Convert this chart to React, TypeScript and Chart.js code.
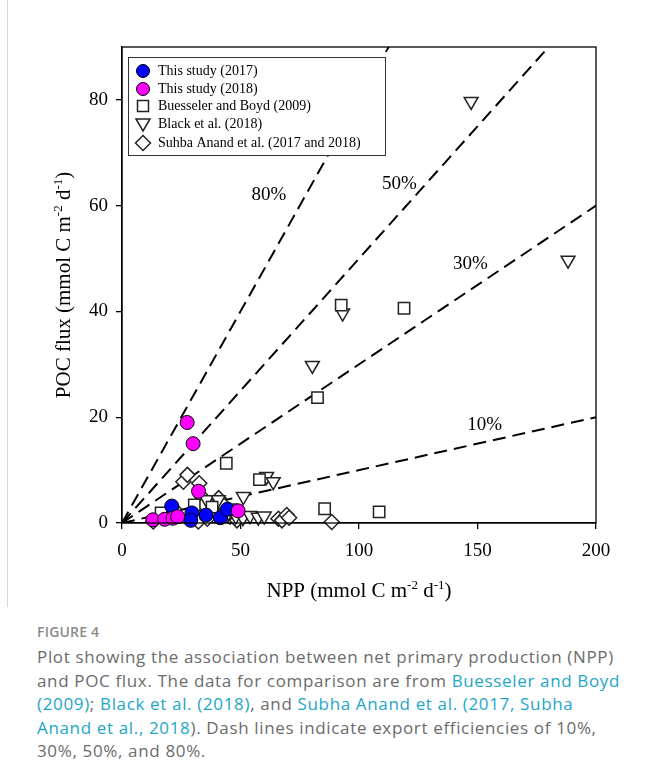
import React, { useEffect, useRef } from "react";
import { Chart, registerables } from "chart.js";

Chart.register(...registerables);

// ---- data ----
const study2017X = [21, 29.5, 29, 35.5, 41.5, 44.5];
const study2017Y = [3.2, 1.9, 0.5, 1.5, 1.0, 2.6];

const study2018X = [13, 18, 21.5, 23.5, 27.5, 30, 32.3, 49];
const study2018Y = [0.6, 0.7, 0.9, 1.2, 19, 15, 6, 2.3];

const buesselerX = [16.5, 30.5, 38, 44, 46, 58, 82.5, 92.5, 119, 85.5, 108.5];
const buesselerY = [1.9, 3.4, 3.0, 11.3, 2.5, 8.2, 23.7, 41.2, 40.6, 2.7, 2.1];

const blackX = [147.3, 188.2, 93.1, 80.3, 61, 63.8, 51.2, 48, 51, 54, 57.5, 60, 35.7, 40.6, 45];
const blackY = [79.7, 49.7, 39.7, 29.8, 8.8, 7.8, 5.0, 1.3, 1.0, 1.4, 1.1, 1.3, 4.4, 4.4, 2.0];

const subhaX = [13.2, 25.9, 27.6, 32.6, 32.2, 33.6, 34.5, 38.5, 40.8, 45.6, 48.5, 66, 67.5, 69.5, 70.5, 88.5, 22, 36, 43];
const subhaY = [0.3, 7.8, 9.1, 7.5, 0.3, 5.0, 3.5, 2.1, 4.7, 1.2, 0.5, 0.8, 0.5, 1.5, 1.0, 0.2, 2.6, 0.8, 3.3];

const efficiencies = [0.1, 0.3, 0.5, 0.8];
const efficiencyLabels = ["10%", "30%", "50%", "80%"];
const efficiencyLabelX = [153, 147, 117, 62];
const efficiencyLabelY = [18.5, 49, 64, 62];

const xTicks = [0, 50, 100, 150, 200];
const yTicks = [0, 20, 40, 60, 80];

const legendLabels = [
  "This study (2017)",
  "This study (2018)",
  "Buesseler and Boyd (2009)",
  "Black et al. (2018)",
  "Suhba Anand et al. (2017 and 2018)",
];

const SERIF = "'Liberation Serif', 'Times New Roman', serif";

const toPoints = (xs: number[], ys: number[]) => xs.map((x, i) => ({ x, y: ys[i] }));

function drawMarker(ctx: CanvasRenderingContext2D, kind: string, x: number, y: number, fill: string) {
  ctx.save();
  ctx.beginPath();
  if (kind === "circle") {
    ctx.arc(x, y, 6.5, 0, Math.PI * 2);
  } else if (kind === "square") {
    ctx.rect(x - 5.5, y - 5.5, 11, 11);
  } else if (kind === "triangle") {
    ctx.moveTo(x - 7, y - 5);
    ctx.lineTo(x + 7, y - 5);
    ctx.lineTo(x, y + 7);
    ctx.closePath();
  } else {
    ctx.moveTo(x, y - 7.5);
    ctx.lineTo(x + 7.5, y);
    ctx.lineTo(x, y + 7.5);
    ctx.lineTo(x - 7.5, y);
    ctx.closePath();
  }
  ctx.fillStyle = fill;
  ctx.fill();
  ctx.lineWidth = kind === "circle" ? 1 : 1.5;
  ctx.strokeStyle = kind === "circle" ? "#000" : "#222";
  ctx.stroke();
  ctx.restore();
}

function drawSupText(
  ctx: CanvasRenderingContext2D,
  parts: { t: string; sup?: boolean }[],
  cx: number,
  cy: number,
  size: number,
  supSize: number
) {
  let total = 0;
  const widths = parts.map((p) => {
    ctx.font = `${p.sup ? supSize : size}px ${SERIF}`;
    const w = ctx.measureText(p.t).width;
    total += w;
    return w;
  });
  let x = cx - total / 2;
  ctx.textBaseline = "alphabetic";
  ctx.textAlign = "left";
  ctx.fillStyle = "#000";
  parts.forEach((p, i) => {
    ctx.font = `${p.sup ? supSize : size}px ${SERIF}`;
    ctx.fillText(p.t, x, p.sup ? cy - size * 0.38 : cy);
    x += widths[i];
  });
}

const decor = {
  id: "decor",
  afterDraw(chart: any) {
    const { ctx, chartArea, scales } = chart;
    const { left, top, right, bottom } = chartArea;
    ctx.save();
    // frame
    ctx.strokeStyle = "#000";
    ctx.lineWidth = 1.3;
    ctx.strokeRect(left, top, right - left, bottom - top);

    // efficiency labels
    ctx.font = `19px ${SERIF}`;
    ctx.fillStyle = "#000";
    ctx.textAlign = "center";
    ctx.textBaseline = "middle";
    efficiencyLabels.forEach((lab, i) => {
      const px = scales.x.getPixelForValue(efficiencyLabelX[i]);
      const py = scales.y.getPixelForValue(efficiencyLabelY[i]);
      ctx.fillText(lab, px, py);
    });

    // legend
    const lx = left + 6;
    const ly = top + 10;
    const lw = 257;
    const lh = 98;
    ctx.fillStyle = "#fff";
    ctx.fillRect(lx, ly, lw, lh);
    ctx.strokeStyle = "#333";
    ctx.lineWidth = 1;
    ctx.strokeRect(lx + 0.5, ly + 0.5, lw, lh);
    const kinds = ["circle", "circle", "square", "triangle", "diamond"];
    const fills = ["#0000ff", "#ff00ff", "#fff", "#fff", "#fff"];
    const rowY = [14, 32, 49, 67, 86];
    legendLabels.forEach((lab, i) => {
      const y = ly + rowY[i];
      drawMarker(ctx, kinds[i], lx + 15, y, fills[i]);
      ctx.font = `14px ${SERIF}`;
      ctx.fillStyle = "#000";
      ctx.textAlign = "left";
      ctx.textBaseline = "middle";
      ctx.fillText(lab, lx + 30, y);
    });

    // axis titles
    drawSupText(
      ctx,
      [
        { t: "NPP (mmol C m" },
        { t: "-2", sup: true },
        { t: " d" },
        { t: "-1", sup: true },
        { t: ")" },
      ],
      (left + right) / 2,
      bottom + 74,
      21,
      13
    );
    ctx.save();
    ctx.translate(left - 59, (top + bottom) / 2);
    ctx.rotate(-Math.PI / 2);
    drawSupText(
      ctx,
      [
        { t: "POC flux (mmol C m" },
        { t: "-2", sup: true },
        { t: " d" },
        { t: "-1", sup: true },
        { t: ")" },
      ],
      0,
      7,
      21,
      13
    );
    ctx.restore();
    ctx.restore();
  },
};

function ChartCanvas() {
  const ref = useRef<HTMLCanvasElement>(null);
  useEffect(() => {
    const canvas = ref.current!;
    const markerBase = {
      type: "scatter" as const,
      showLine: false,
      clip: false as const,
      borderColor: "#222",
      backgroundColor: "#fff",
      borderWidth: 1.5,
    };
    const lineSets = efficiencies.map((e) => ({
      type: "scatter" as const,
      label: `${e * 100}%`,
      data: [
        { x: 0, y: 0 },
        { x: 200, y: 200 * e },
      ],
      showLine: true,
      borderColor: "#000",
      borderWidth: 2,
      borderDash: [13, 7],
      pointRadius: 0,
      fill: false,
      order: 6,
    }));
    const chart = new Chart(canvas, {
      type: "scatter",
      data: {
        datasets: [
          ...lineSets,
          {
            ...markerBase,
            label: legendLabels[4],
            data: toPoints(subhaX, subhaY),
            pointStyle: "rectRot",
            pointRadius: 7.5,
            order: 5,
          },
          {
            ...markerBase,
            label: legendLabels[3],
            data: toPoints(blackX, blackY),
            pointStyle: "triangle",
            rotation: 180,
            pointRadius: 8,
            order: 4,
          },
          {
            ...markerBase,
            label: legendLabels[2],
            data: toPoints(buesselerX, buesselerY),
            pointStyle: "rect",
            pointRadius: 8,
            order: 3,
          },
          {
            ...markerBase,
            label: legendLabels[0],
            data: toPoints(study2017X, study2017Y),
            pointStyle: "circle",
            pointRadius: 7,
            backgroundColor: "#0000ff",
            borderColor: "#000",
            borderWidth: 1,
            order: 2,
          },
          {
            ...markerBase,
            label: legendLabels[1],
            data: toPoints(study2018X, study2018Y),
            pointStyle: "circle",
            pointRadius: 7,
            backgroundColor: "#ff00ff",
            borderColor: "#000",
            borderWidth: 1,
            order: 1,
          },
        ] as any,
      },
      options: {
        animation: false,
        responsive: false,
        devicePixelRatio: 1,
        events: [],
        layout: { padding: { left: 0, right: 44, top: 47, bottom: 0 } },
        plugins: { legend: { display: false }, tooltip: { enabled: false } },
        scales: {
          x: {
            type: "linear",
            min: 0,
            max: 200,
            afterBuildTicks: (s: any) => {
              s.ticks = xTicks.map((v) => ({ value: v }));
            },
            afterFit: (s: any) => {
              s.height = 82;
            },
            grid: { display: true, drawOnChartArea: false, drawTicks: true, tickLength: 6, color: "#000", lineWidth: 1.3 },
            border: { display: true, color: "#000", width: 1.3 },
            ticks: { color: "#000", font: { family: SERIF, size: 19 }, padding: 11, maxRotation: 0 },
          },
          y: {
            type: "linear",
            min: 0,
            max: 90,
            afterBuildTicks: (s: any) => {
              s.ticks = yTicks.map((v) => ({ value: v }));
            },
            afterFit: (s: any) => {
              s.width = 114;
            },
            grid: { display: true, drawOnChartArea: false, drawTicks: true, tickLength: 6, color: "#000", lineWidth: 1.3 },
            border: { display: true, color: "#000", width: 1.3 },
            ticks: { color: "#000", font: { family: SERIF, size: 19 }, padding: 8 },
          },
        },
      } as any,
      plugins: [decor],
    });
    return () => chart.destroy();
  }, []);
  return <canvas ref={ref} width={632} height={605} style={{ display: "block" }} />;
}

const gray = "#6b6b6b";
const teal = "#22a6c8";

export default function App() {
  const L = (t: string) => <span style={{ color: teal }}>{t}</span>;
  const lineStyle: React.CSSProperties = { whiteSpace: "nowrap", height: 23.5 };
  return (
    <div style={{ position: "absolute", left: 0, top: 0, width: 648, height: 782, background: "#fff" }}>
      <div style={{ position: "absolute", left: 7, top: 0, width: 1, height: 607, background: "#d8d8d8" }} />
      <div style={{ position: "absolute", left: 8, top: 0 }}>
        <ChartCanvas />
      </div>
      <div
        style={{
          position: "absolute",
          left: 37,
          top: 623,
          fontFamily: "'Open Sans', sans-serif",
          fontSize: 14,
          fontWeight: 600,
          color: "#8a8a8a",
          lineHeight: "18px",
          letterSpacing: 0.2,
        }}
      >
        FIGURE 4
      </div>
      <div
        style={{
          position: "absolute",
          left: 37,
          top: 645,
          fontFamily: "'Open Sans', sans-serif",
          fontSize: 17,
          letterSpacing: 0.65,
          color: gray,
          lineHeight: "23.5px",
        }}
      >
        <div style={lineStyle}>Plot showing the association between net primary production (NPP)</div>
        <div style={lineStyle}>
          and POC flux. The data for comparison are from {L("Buesseler and Boyd")}
        </div>
        <div style={lineStyle}>
          {L("(2009)")}; {L("Black et al. (2018)")}, and {L("Subha Anand et al. (2017, Subha")}
        </div>
        <div style={lineStyle}>
          {L("Anand et al., 2018")}). Dash lines indicate export efficiencies of 10%,
        </div>
        <div style={lineStyle}>30%, 50%, and 80%.</div>
      </div>
    </div>
  );
}
